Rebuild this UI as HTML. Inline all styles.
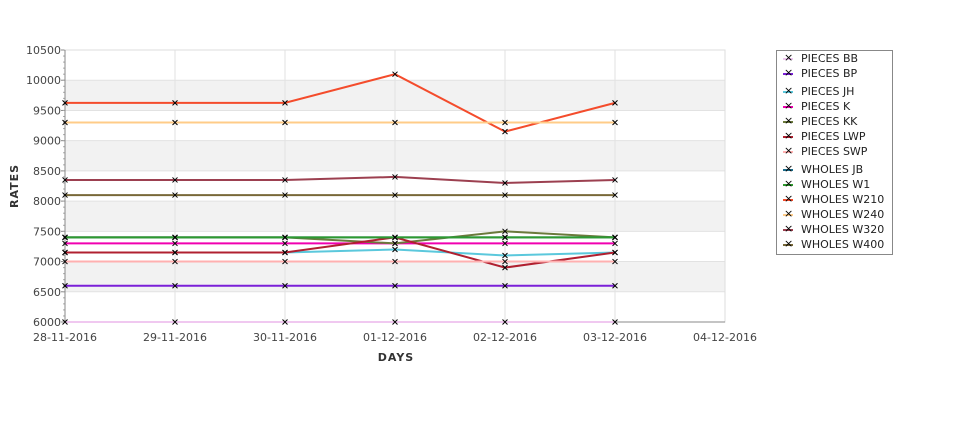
<!DOCTYPE html>
<html><head><meta charset="utf-8"><style>
body{margin:0;background:#fff;width:975px;height:429px;overflow:hidden;font-family:"DejaVu Sans","Liberation Sans",sans-serif}
#legend{position:absolute;left:776px;top:50px;width:115px;height:203px;border:1px solid #888;background:#fff;font-size:11px;color:#222}
.li{position:absolute;left:6px;height:14px;line-height:14px;white-space:nowrap}
.sw{display:inline-block;width:10px;height:2px;vertical-align:middle;margin-right:8px;position:relative}
.sw:after{content:"×";position:absolute;left:1px;top:-7px;font-size:11px;color:#000;line-height:14px}
</style></head><body>
<svg id="chart" width="975" height="429" style="position:absolute;left:0;top:0" font-family="DejaVu Sans, Liberation Sans, sans-serif"></svg>
<div id="legend"></div>
<script>
const dates=["28-11-2016","29-11-2016","30-11-2016","01-12-2016","02-12-2016","03-12-2016","04-12-2016"];
const yTicks=[6000,6500,7000,7500,8000,8500,9000,9500,10000,10500];
const seriesNames=["PIECES BB","PIECES BP","PIECES JH","PIECES K","PIECES KK","PIECES LWP","PIECES SWP","WHOLES JB","WHOLES W1","WHOLES W210","WHOLES W240","WHOLES W320","WHOLES W400"];
const seriesColors=["#f0c8f0","#7b1fd8","#5bc8dc","#f000b0","#6b7a3c","#b02030","#ffb0b0","#1e6e8c","#2e9a2e","#f44c2c","#ffcc88","#9c4050","#786838"];
const vBB=[6000,6000,6000,6000,6000,6000];
const vBP=[6600,6600,6600,6600,6600,6600];
const vJH=[7150,7150,7150,7200,7100,7150];
const vK=[7300,7300,7300,7300,7300,7300];
const vKK=[7400,7400,7400,7300,7500,7400];
const vLWP=[7150,7150,7150,7400,6900,7150];
const vSWP=[7000,7000,7000,7000,7000,7000];
const vJB=[7400,7400,7400,7400,7400,7400];
const vW1=[7400,7400,7400,7400,7400,7400];
const vW210=[9625,9625,9625,10100,9150,9625];
const vW240=[9300,9300,9300,9300,9300,9300];
const vW320=[8350,8350,8350,8400,8300,8350];
const vW400=[8100,8100,8100,8100,8100,8100];
const seriesValues=[vBB,vBP,vJH,vK,vKK,vLWP,vSWP,vJB,vW1,vW210,vW240,vW320,vW400];

const L=65,R=725,T=50,B=322,ymin=6000,ymax=10500;
const xs=i=>L+i*(R-L)/(dates.length-1);
const ys=v=>B-(v-ymin)/(ymax-ymin)*(B-T);
const svg=document.getElementById('chart');
const NS="http://www.w3.org/2000/svg";
function mk(t,a){const e=document.createElementNS(NS,t);for(const k in a)e.setAttribute(k,a[k]);svg.appendChild(e);return e;}
// bands
for(let i=0;i<yTicks.length-1;i++){
  if(i%2===1){const r=mk('rect',{x:L,y:ys(yTicks[i+1]),width:R-L,height:ys(yTicks[i])-ys(yTicks[i+1]),fill:'#f2f2f2'});
  
  }
}
yTicks.forEach(v=>{const l=mk('line',{x1:L,x2:R,y1:ys(v),y2:ys(v),stroke:'#e2e2e2'});


const t=mk('text',{x:L-4,y:ys(v)+4,'text-anchor':'end','font-size':11,fill:'#444'});t.textContent=v;


const tk=mk('line',{x1:L-4,x2:L,y1:ys(v),y2:ys(v),stroke:'#888'});

});
for(let v=ymin;v<ymax;v+=100){const tk=mk('line',{x1:L-2,x2:L,y1:ys(v),y2:ys(v),stroke:'#aaa'});

}
dates.forEach((d,i)=>{const l=mk('line',{x1:xs(i),x2:xs(i),y1:T,y2:B,stroke:'#e2e2e2'});


const t=mk('text',{x:xs(i),y:B+19,'text-anchor':'middle','font-size':11,fill:'#444'});t.textContent=d;

});
const bx=mk('rect',{x:L,y:T,width:R-L,height:B-T,fill:'none',stroke:'#ddd'});


const ax=mk('line',{x1:L,x2:L,y1:T,y2:B,stroke:'#888'});


const ax2=mk('line',{x1:L,x2:R,y1:B,y2:B,stroke:'#888'});


// series
seriesValues.forEach((vals,s)=>{
  const p=mk('polyline',{points:vals.map((v,i)=>xs(i)+','+ys(v)).join(' '),fill:'none',stroke:seriesColors[s],'stroke-width':2});
  
  
});
seriesValues.forEach((vals,s)=>{vals.forEach((v,i)=>{
  const x=xs(i),y=ys(v);
  const m=mk('path',{d:`M${x-2.5},${y-2.5}L${x+2.5},${y+2.5}M${x-2.5},${y+2.5}L${x+2.5},${y-2.5}`,stroke:'#000','stroke-width':1});
  
  
});});
const yt=mk('text',{x:0,y:0,transform:'translate(18,186) rotate(-90)','text-anchor':'middle','font-size':11,'font-weight':'bold',fill:'#333','letter-spacing':1});yt.textContent='RATES';


const xt=mk('text',{x:396,y:361,'text-anchor':'middle','font-size':11,'font-weight':'bold',fill:'#333','letter-spacing':1});xt.textContent='DAYS';


// legend
const lg=document.getElementById('legend');
const rowY=[1,16,34,49,64,79,94,112,127,142,157,172,187];
seriesNames.forEach((n,s)=>{
  const d=document.createElement('div');d.className='li';d.style.top=rowY[s]+'px';
  
  
  const sw=document.createElement('span');sw.className='sw';sw.style.background=seriesColors[s];
  d.appendChild(sw);d.appendChild(document.createTextNode(n));lg.appendChild(d);
});
</script>
</body></html>
